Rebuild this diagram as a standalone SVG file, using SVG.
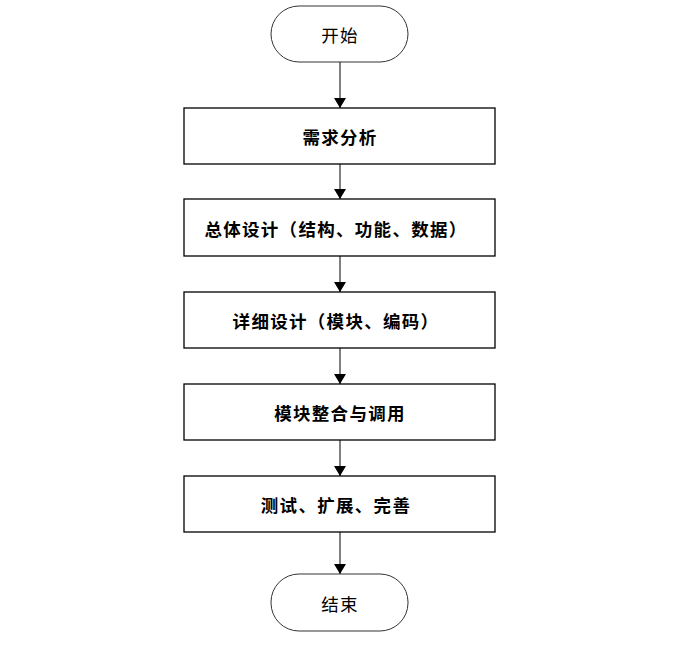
<svg xmlns="http://www.w3.org/2000/svg" width="684" height="655" viewBox="0 0 684 655">
<style>
.term{fill:#fff;stroke:#333;stroke-width:1}
.box{fill:#fff;stroke:#000;stroke-width:1.3}
.t{font-family:"Noto Sans CJK SC",sans-serif;font-size:17.5px;text-anchor:middle;dominant-baseline:central;fill:#000;letter-spacing:1.3px}
.b{font-weight:bold}
.c{stroke:#000;stroke-width:1;fill:none;marker-end:url(#arr)}
</style>
<defs>
<marker id="arr" viewBox="0 0 10 12" refX="10" refY="6" markerWidth="11" markerHeight="12" markerUnits="userSpaceOnUse" orient="auto">
<path d="M0,0 L10,6 L0,12 Z" fill="#000"/>
</marker>
</defs>
<rect width="684" height="655" fill="#fff"/>
<g id="connectors">
<line class="c" x1="340" y1="62" x2="340" y2="108"/>
<line class="c" x1="340" y1="164" x2="340" y2="199"/>
<line class="c" x1="340" y1="256" x2="340" y2="292"/>
<line class="c" x1="340" y1="348" x2="340" y2="384"/>
<line class="c" x1="340" y1="440" x2="340" y2="476"/>
<line class="c" x1="340" y1="532" x2="340" y2="574"/>
</g>
<g id="start">
<rect class="term" x="271" y="6" width="137" height="56" rx="28" ry="28"/>
<text class="t" x="340" y="34">开始</text>
</g>
<g id="n1">
<rect class="box" x="184" y="108" width="311" height="56"/>
<text class="t b" x="340" y="136">需求分析</text>
</g>
<g id="n2">
<rect class="box" x="184" y="199" width="311" height="57"/>
<text class="t b" x="336" y="228">总体设计（结构、功能、数据）</text>
</g>
<g id="n3">
<rect class="box" x="184" y="292" width="311" height="56"/>
<text class="t b" x="336" y="320">详细设计（模块、编码）</text>
</g>
<g id="n4">
<rect class="box" x="184" y="384" width="311" height="56"/>
<text class="t b" x="340" y="412">模块整合与调用</text>
</g>
<g id="n5">
<rect class="box" x="184" y="476" width="311" height="56"/>
<text class="t b" x="336" y="504">测试、扩展、完善</text>
</g>
<g id="end">
<rect class="term" x="271" y="574" width="137" height="57" rx="28" ry="28"/>
<text class="t" x="340" y="603">结束</text>
</g>
</svg>
